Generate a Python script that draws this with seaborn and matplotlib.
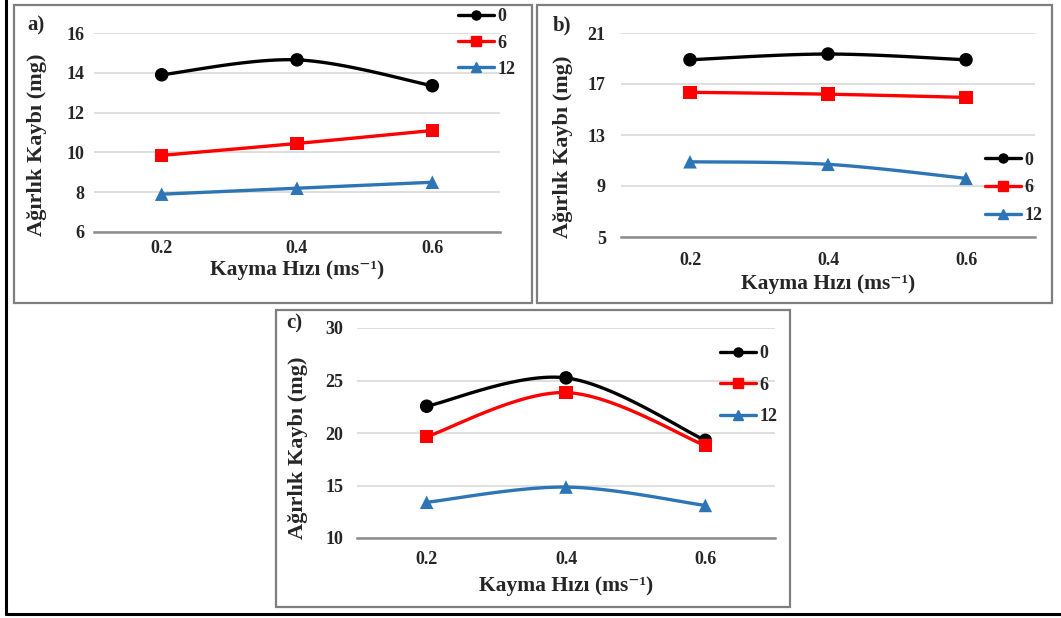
import numpy as np
import pandas as pd
import matplotlib
matplotlib.use("Agg")
import matplotlib.pyplot as plt
from matplotlib.lines import Line2D
from matplotlib.patches import Rectangle
import seaborn as sns

# ---- data -------------------------------------------------------------
speeds = ["0.2", "0.4", "0.6"]
series_names = ["0", "6", "12"]

a_0 = [13.9, 14.65, 13.35]
a_6 = [9.85, 10.45, 11.1]
a_12 = [7.9, 8.2, 8.5]

b_0 = [18.9, 19.35, 18.9]
b_6 = [16.35, 16.2, 15.95]
b_12 = [10.9, 10.7, 9.6]

c_0 = [22.55, 25.25, 19.3]
c_6 = [19.65, 23.85, 18.8]
c_12 = [13.4, 14.85, 13.1]

a_ticks = [6, 8, 10, 12, 14, 16]
b_ticks = [5, 9, 13, 17, 21]
c_ticks = [10, 15, 20, 25, 30]

# ---- style ------------------------------------------------------------
sns.set_theme(style="white")
plt.rcParams["font.family"] = ["Liberation Serif", "DejaVu Serif"]
plt.rcParams["font.weight"] = "bold"

colors = {"0": "#000000", "6": "#ff0000", "12": "#2e75b6"}
markers = {"0": "o", "6": "s", "12": "^"}

W, H = 1061, 618
fig = plt.figure(figsize=(W / 100, H / 100), dpi=100)


def px_rect(x0, y0, x1, y1):
    return [x0 / W, 1 - y1 / H, (x1 - x0) / W, (y1 - y0) / H]


def smooth(xs, ys, n=40):
    """Bezier smoothing through the points (Excel-style smoothed line)."""
    p = np.column_stack([xs, ys]).astype(float)
    pts = np.vstack([p[0], p, p[-1]])
    out = []
    t = np.linspace(0, 1, n)[:, None]
    for i in range(1, len(pts) - 2):
        p0, p3 = pts[i], pts[i + 1]
        c1 = p0 + (pts[i + 1] - pts[i - 1]) / 6
        c2 = p3 - (pts[i + 2] - pts[i]) / 6
        seg = ((1 - t) ** 3) * p0 + 3 * ((1 - t) ** 2) * t * c1 \
            + 3 * (1 - t) * t ** 2 * c2 + t ** 3 * p3
        out.append(seg if i == 1 else seg[1:])
    out = np.vstack(out)
    return out[:, 0], out[:, 1]


def panel(rect, values, ticks, label, label_xy, legend_xy, legend_gap,
          ylab_xy, xlab_y, ypad, xpad):
    ax = fig.add_axes(px_rect(*rect))
    df = pd.DataFrame({
        "pos": np.tile(np.arange(len(speeds)), len(series_names)),
        "value": np.concatenate([values[s] for s in series_names]),
        "series": np.repeat(series_names, len(speeds)),
    })
    for s in series_names:
        d = df[df.series == s]
        sx, sy = smooth(d.pos.values, d.value.values)
        ax.plot(sx, sy, color=colors[s], lw=2.4, zorder=3, solid_capstyle="round")
    sns.scatterplot(data=df, x="pos", y="value", hue="series", style="series",
                    palette=colors, markers=markers, s=95, linewidth=0,
                    legend=False, ax=ax, zorder=4)

    ax.set_xlim(-0.5, len(speeds) - 0.5)
    ax.set_ylim(ticks[0], ticks[-1])
    ax.set_yticks(ticks)
    ax.set_yticklabels([str(t) for t in ticks], fontsize=13, fontweight="bold")
    ax.set_xticks(np.arange(-0.5, len(speeds)))
    ax.set_xticklabels([])
    ax.set_xticks(np.arange(len(speeds)), minor=True)
    ax.set_xticklabels(speeds, minor=True, fontsize=13, fontweight="bold")
    ax.tick_params(axis="x", which="major", direction="inout", length=6,
                   width=1.2, color="#808080")
    ax.tick_params(axis="x", which="minor", length=0, pad=xpad)
    ax.tick_params(axis="y", length=0, pad=ypad)
    ax.yaxis.grid(True, color="#d9d9d9", lw=1.2)
    ax.xaxis.grid(False)
    for side in ("left", "top", "right"):
        ax.spines[side].set_visible(False)
    ax.spines["bottom"].set_color("#8c8c8c")
    ax.spines["bottom"].set_linewidth(1.8)
    ax.set_xlabel("")
    ax.set_ylabel("")
    ax.set_axisbelow(True)

    # axis titles and panel letter
    fig.text(ylab_xy[0] / W, 1 - ylab_xy[1] / H, "Ağırlık Kaybı (mg)",
             rotation=90, ha="center", va="center", fontsize=16, fontweight="bold")
    fig.text(((rect[0] + rect[2]) / 2) / W, 1 - xlab_y / H,
             "Kayma Hızı (ms⁻¹)", ha="center", va="center",
             fontsize=15.5, fontweight="bold")
    fig.text(label_xy[0] / W, 1 - label_xy[1] / H, label, ha="left",
             va="center", fontsize=15, fontweight="bold")

    handles = [Line2D([], [], color=colors[s], lw=2.4, marker=markers[s],
                      ms=6.5, label=s) for s in series_names]
    fig.legend(handles=handles, loc="center left",
               bbox_to_anchor=(legend_xy[0] / W, 1 - legend_xy[1] / H),
               frameon=False, handlelength=2.0, handletextpad=0.2,
               labelspacing=legend_gap, borderpad=0, borderaxespad=0,
               prop={"weight": "bold", "size": 13})
    return ax


panel((94, 33, 500, 232), {"0": a_0, "6": a_6, "12": a_12}, a_ticks,
      "a)", (27, 25), (458, 43), 0.5, (37, 145), 270, 7, 6)
panel((621, 33, 1035, 237), {"0": b_0, "6": b_6, "12": b_12}, b_ticks,
      "b)", (553, 25), (985, 188), 0.6, (563, 147), 284, 11, 11)
panel((357, 328, 775, 538), {"0": c_0, "6": c_6, "12": c_12}, c_ticks,
      "c)", (286, 323), (720, 385), 0.8, (298, 448), 586, 10, 9)

# panel frames
for (x0, y0, x1, y1) in [(14, 5, 532, 303), (537, 5, 1052, 303), (276, 310, 790, 607)]:
    fig.patches.append(Rectangle((x0 / W, 1 - y1 / H), (x1 - x0) / W, (y1 - y0) / H,
                                 transform=fig.transFigure, fill=False,
                                 edgecolor="#7f7f7f", lw=1.6))

# outer frame (left and bottom edges)
fig.lines.append(Line2D([6 / W, 6 / W], [1 - 614 / H, 1], transform=fig.transFigure,
                        color="black", lw=2.2))
fig.lines.append(Line2D([6 / W, 1], [1 - 614 / H, 1 - 614 / H],
                        transform=fig.transFigure, color="black", lw=2.2))

fig.savefig("out.png", dpi=100, facecolor="white")
